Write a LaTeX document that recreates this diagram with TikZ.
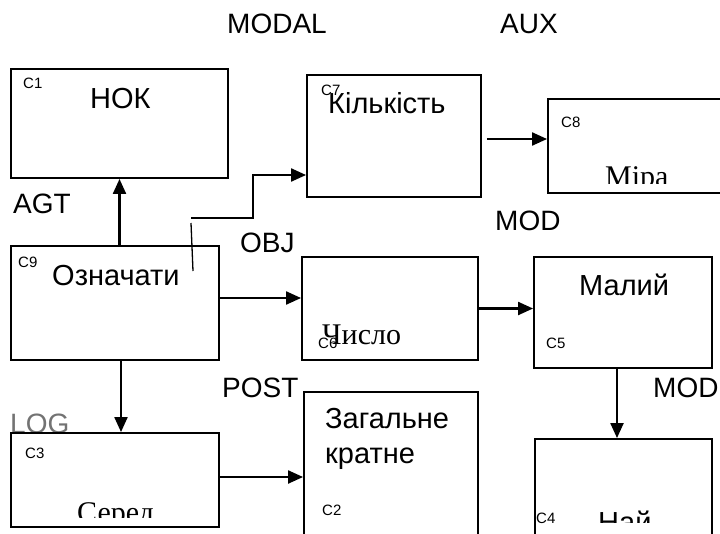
\documentclass[tikz,border=0pt]{standalone}
\usepackage{fontspec}
\setmainfont{Liberation Sans}
\newfontfamily\serifcyr{Liberation Serif}
\usetikzlibrary{calc, arrows.meta, positioning}

\begin{document}
\begin{tikzpicture}[x=1pt, y=-1pt,
    box/.style={draw, line width=1.9pt, fill=white, inner sep=0pt},
    word/.style={anchor=base west, inner sep=0pt, font=\fontsize{29}{35}\selectfont},
    oldword/.style={anchor=base west, inner sep=0pt, font=\serifcyr\fontsize{30}{34}\selectfont},
    tag/.style={anchor=base west, inner sep=0pt, font=\fontsize{15}{17}\selectfont},
    rel/.style={anchor=base west, inner sep=0pt, font=\fontsize{28}{32}\selectfont},
    arr/.style={line width=2.2pt, -{Triangle[length=15pt, width=13pt]}}]
  \clip (0,0) rectangle (720,533);
  \fill[white] (0,0) rectangle (720,533);

  % relation labels
  \node[rel] (modal) at (227,33) {MODAL};
  \node[rel] (aux) at (500,33) {AUX};
  \node[rel] (agt) at (13,213) {AGT};
  \node[rel] (obj) at (240,252) {OBJ};
  \node[rel] (modup) at (495,230) {MOD};
  \node[rel] (post) at (222,397) {POST};
  \node[rel] (modright) at (653,397) {MOD};
  \node[rel, text=black!55] (log) at (10,433) {LOG};

  % concept boxes
  \node[box, minimum width=217pt, minimum height=109pt] (c1) at (119.5,123.5) {};
  \node[box, minimum width=174pt, minimum height=122pt] (c7) at (394,136) {};
  \node[box, minimum width=192pt, minimum height=94pt] (c8) at (644,146) {};
  \node[box, minimum width=208pt, minimum height=114pt] (c9) at (115,303) {};
  \node[box, minimum width=176pt, minimum height=103pt] (c6) at (390,308.5) {};
  \node[box, minimum width=178pt, minimum height=111pt] (c5) at (623,312.5) {};
  \node[box, minimum width=208pt, minimum height=94pt] (c3) at (115,480) {};
  \node[box, minimum width=174pt, minimum height=158pt] (c2) at (391,471) {};
  \node[box, minimum width=177pt, minimum height=111pt] (c4) at (623.5,494.5) {};

  % box tags
  \node[tag] (t1) at (23,88) {C1};
  \node[tag] (t7) at (321,95) {C7};
  \node[tag] (t8) at (561,127) {C8};
  \node[tag] (t9) at (18,267) {C9};
  \node[tag] (t6) at (318,348) {C6};
  \node[tag] (t5) at (546,348) {C5};
  \node[tag] (t3) at (25,458) {C3};
  \node[tag] (t2) at (322,515) {C2};
  \node[tag] (t4) at (536,523) {C4};

  % box words
  \node[word] (w1) at (90,108) {НОК};
  \node[word] (w7) at (328,113) {Кількість};
  \node[word] (w9) at (52,285) {Означати};
  \node[word] (w5) at (579,295) {Малий};
  \node[word, align=left] (w2) at (325,463) {Загальне\\кратне};
  \node[oldword] (w6) at (322,344) {Число};
  \begin{scope}
    \clip (548,99) rectangle (720,183);
    \node[oldword] (w8) at (605,186) {Міра};
  \end{scope}
  \begin{scope}
    \clip (11,433) rectangle (219,517);
    \node[oldword] (w3) at (77,522) {Серед};
  \end{scope}
  \begin{scope}
    \clip (535,439) rectangle (712,522);
    \node[word] (w4) at (598,532) {Най};
  \end{scope}

  % connectors
  \coordinate (objstart) at (191,218);
  \coordinate (ticktop) at (191,223);
  \coordinate (tickbot) at (193,271);
  \draw[arr] (c9.north -| c1.south) -- (c1.south);
  \draw[arr] (objstart) -- ++(62,0) |- ([yshift=-39pt]c7.west);
  \draw[line width=1.3pt] (ticktop) -- (tickbot);
  \draw[arr] ([yshift=5pt]c9.east) -- ([yshift=5pt]c9.east -| c6.west);
  \draw[arr] ([xshift=6pt]c9.south) -- ([xshift=6pt]c9.south |- c3.north);
  \draw[arr] ([xshift=5pt,yshift=-3pt]c7.east) -- ([yshift=-3pt]c7.east -| c8.west);
  \draw[arr] (c6.east) -- (c6.east -| c5.west);
  \draw[arr] ([yshift=3pt]c3.east) -- ([yshift=3pt]c3.east -| c2.west);
  \draw[arr] ([xshift=-6pt]c5.south) -- ([xshift=-6pt]c5.south |- c4.north);
\end{tikzpicture}
\end{document}
